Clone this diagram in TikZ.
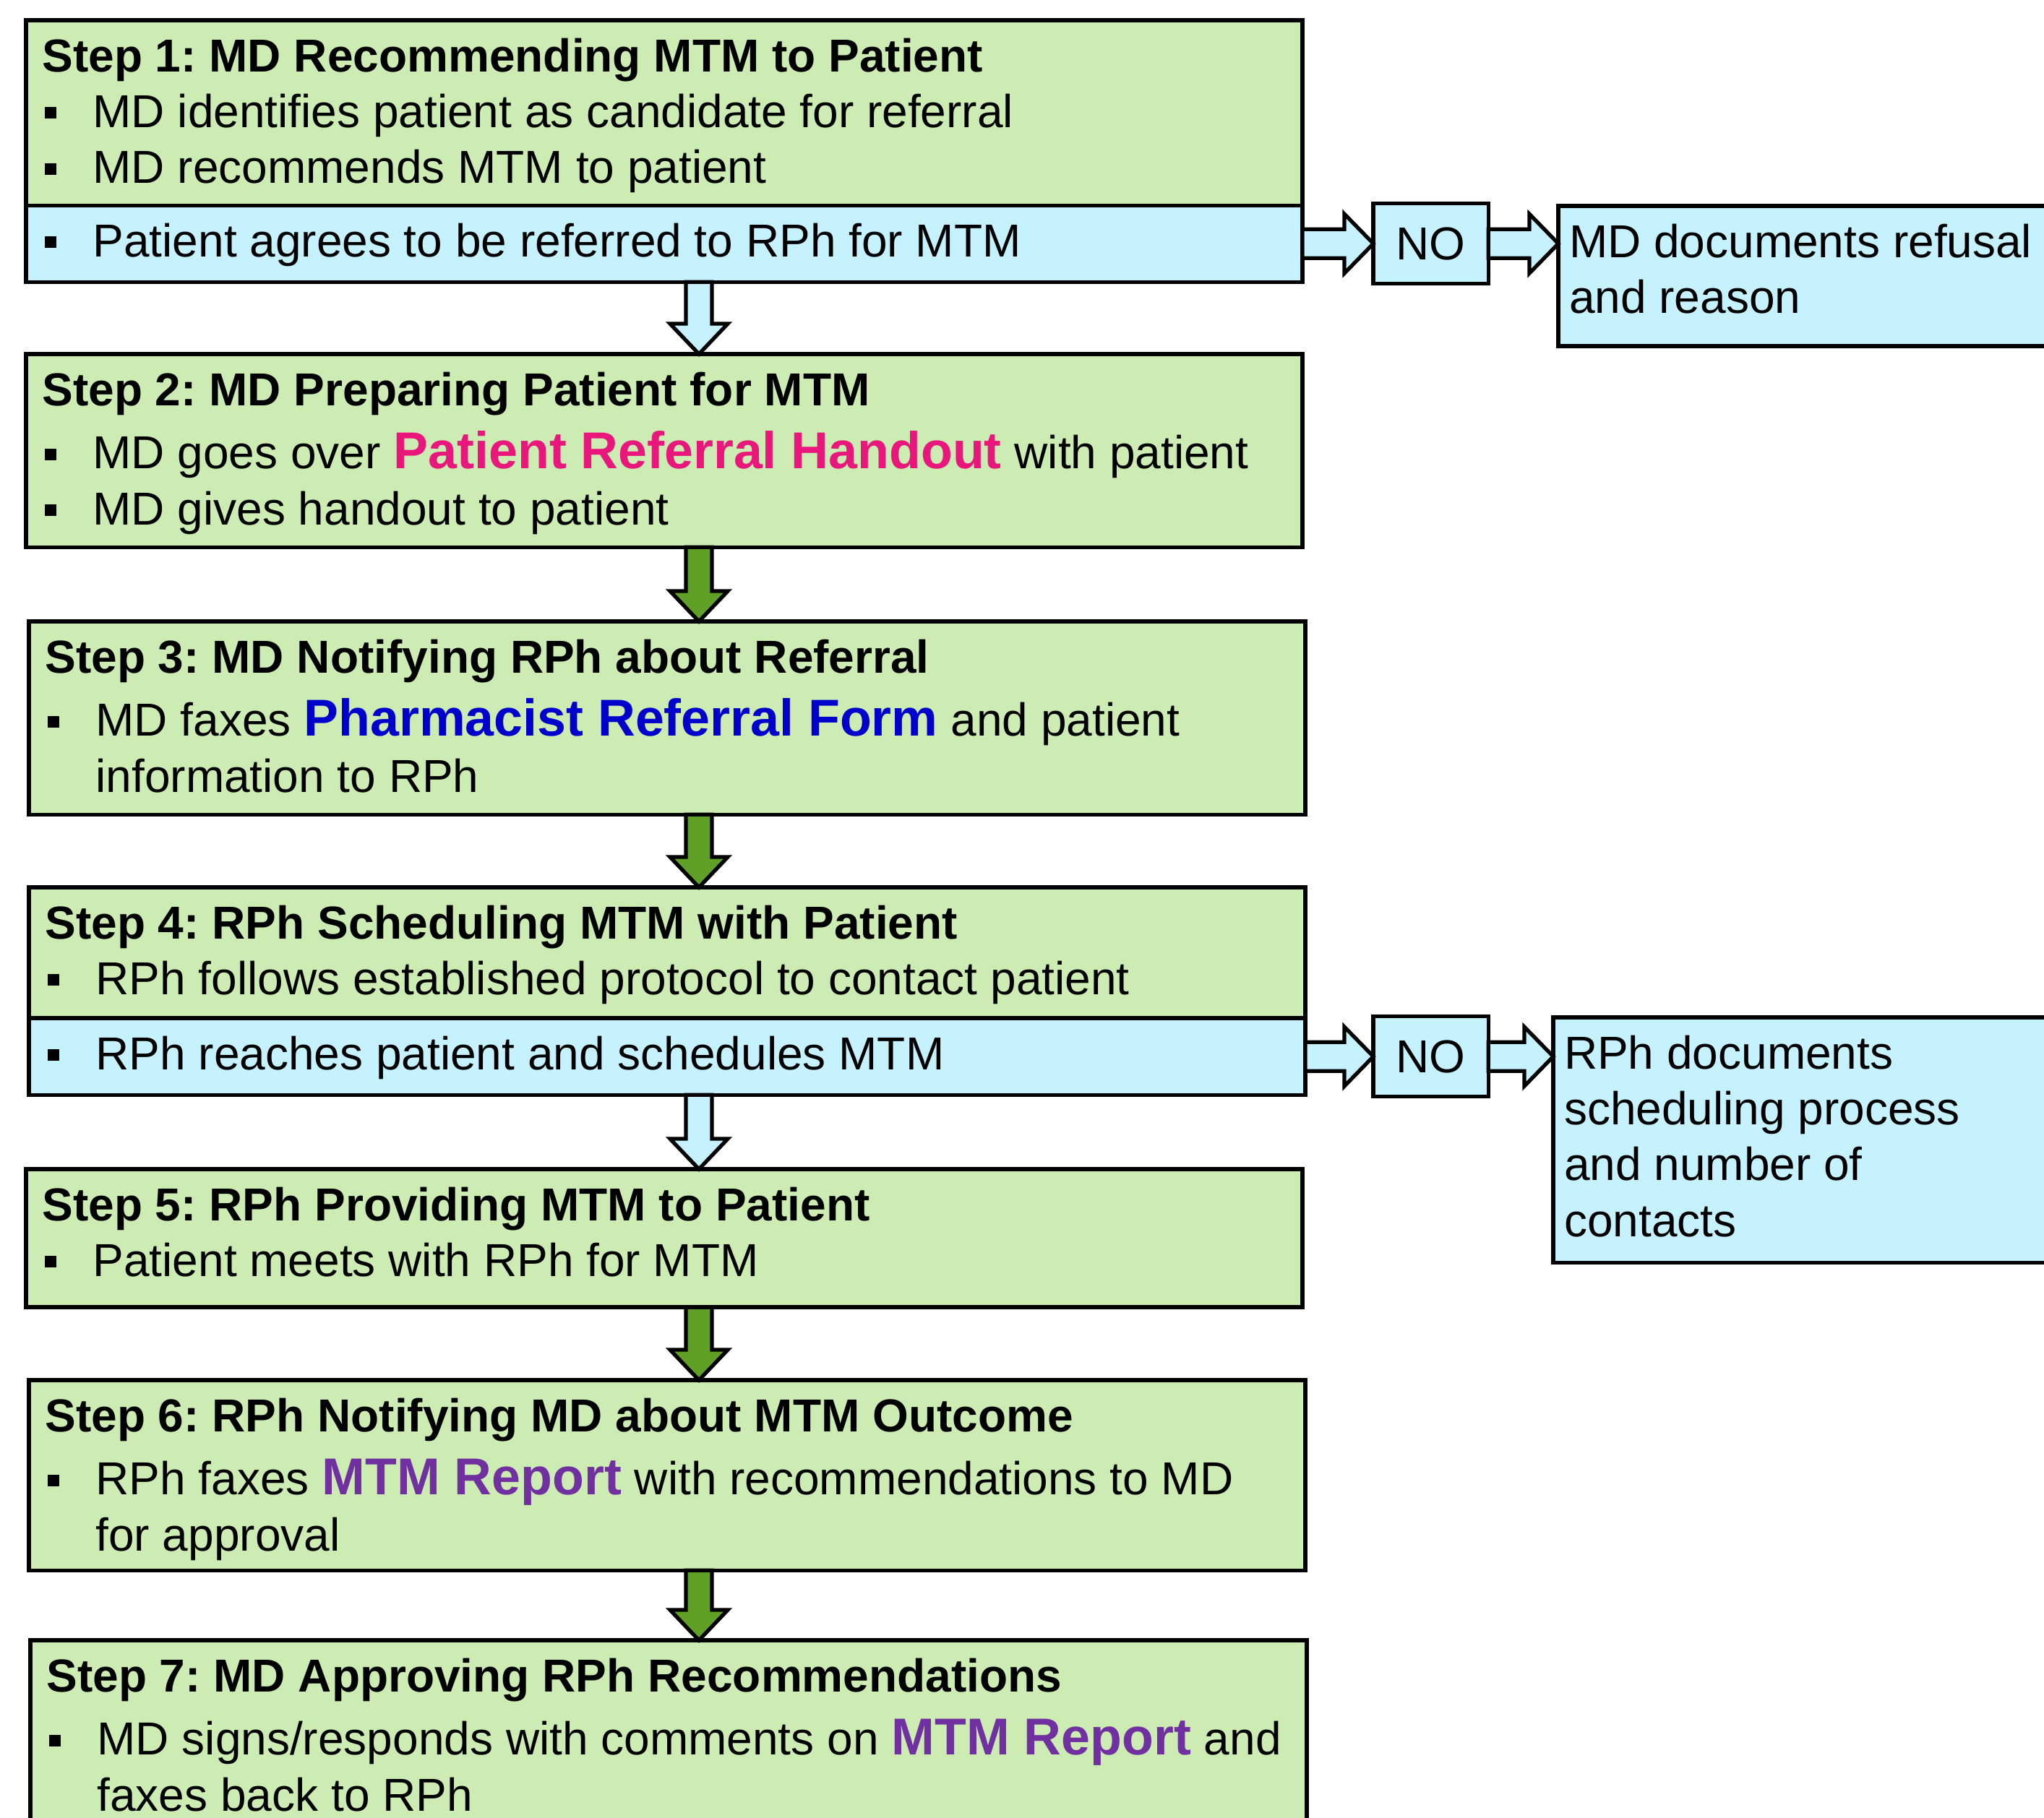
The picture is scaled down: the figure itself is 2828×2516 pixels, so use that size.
\documentclass[tikz,border=0pt]{standalone}
\usepackage{fontspec}
\setmainfont{Liberation Sans}
\usepackage{tikz}
\usetikzlibrary{positioning,calc}
\frenchspacing
\definecolor{stepgreen}{RGB}{204,236,180}
\definecolor{stepblue}{RGB}{198,241,255}
\definecolor{arrowgreen}{RGB}{96,160,38}
\definecolor{handoutpink}{RGB}{233,22,123}
\definecolor{formblue}{RGB}{0,0,204}
\definecolor{reportpurple}{RGB}{112,48,160}
\newcommand{\bul}{\makebox[0.70cm][l]{\hspace{0.03cm}\rule[0.12cm]{0.16cm}{0.16cm}}}
\newcommand{\docname}[2]{{\color{#1}\fontsize{20.4pt}{22pt}\selectfont\bfseries #2}}
% text hangs from the top of each box
\newcommand{\boxtext}[3]{\parbox[c][#1][t]{#2}{\raggedright\rule{0pt}{0.71cm}#3}}
\tikzstyle{stepbox} = [rectangle,draw=black,line width=1.5pt,fill=stepgreen,anchor=north west,outer sep=0pt,inner xsep=0.225cm,inner ysep=0pt,font=\fontsize{18.2pt}{22pt}\selectfont]
\tikzstyle{yesbox} = [stepbox,fill=stepblue]
\tikzstyle{nobox} = [rectangle,draw=black,line width=1.5pt,fill=stepblue,outer sep=0pt,minimum width=1.59cm,minimum height=1.11cm,inner sep=0pt,font=\fontsize{18.2pt}{22pt}\selectfont]
\tikzstyle{sidebox} = [stepbox,fill=stepblue,inner xsep=0.15cm]
\tikzstyle{blockdown} = [draw=black,line width=1.5pt,line join=miter,
  to path={($(\tikztostart)+(-18,0)$) -- ($(\tikztotarget)+(-18,42)$) -- ($(\tikztotarget)+(-40,42)$) -- (\tikztotarget)
    -- ($(\tikztotarget)+(40,42)$) -- ($(\tikztotarget)+(18,42)$) -- ($(\tikztostart)+(18,0)$) -- cycle}]
\tikzstyle{blockright} = [draw=black,line width=1.5pt,line join=miter,fill=stepblue,
  to path={($(\tikztostart)+(0,20)$) -- ($(\tikztotarget)+(-40,20)$) -- ($(\tikztotarget)+(-40,41)$) -- (\tikztotarget)
    -- ($(\tikztotarget)+(-40,-41)$) -- ($(\tikztotarget)+(-40,-20)$) -- ($(\tikztostart)+(0,-20)$) -- cycle}]

\begin{document}
\begin{tikzpicture}[x=0.01cm,y=0.01cm]
	\useasboundingbox (0,0) rectangle (2828,-2516);
	\coordinate (ax) at (967,0);

	%Step1
	\node (S1) [stepbox] at (36,-28) {\boxtext{2.56cm}{17.2cm}{\textbf{Step 1: MD Recommending MTM to Patient}\\
		\bul MD identifies patient as candidate for referral\\
		\bul MD recommends MTM to patient}};
	\node (S1b) [yesbox] at (S1.south west) {\boxtext{1.06cm}{17.2cm}{\bul Patient agrees to be referred to RPh for MTM}};
	\node (N1) [nobox,right=0.98cm of S1b] {NO};
	\node (R1) [sidebox] at (2156,-285) {\boxtext{1.94cm}{6.9cm}{MD documents refusal\\and reason}};

	%Step2
	\node (S2) [stepbox] at (36,-490) {\boxtext{2.67cm}{17.2cm}{\textbf{Step 2: MD Preparing Patient for MTM}\\[3pt]
		\bul MD goes over \docname{handoutpink}{Patient Referral Handout} with patient\\
		\bul MD gives handout to patient}};

	%Step3
	\node (S3) [stepbox] at (40,-860) {\boxtext{2.67cm}{17.2cm}{\textbf{Step 3: MD Notifying RPh about Referral}\\[3pt]
		\bul MD faxes \docname{formblue}{Pharmacist Referral Form} and patient\\
		\hspace*{0.70cm}information to RPh}};

	%Step4
	\node (S4) [stepbox] at (40,-1228) {\boxtext{1.81cm}{17.2cm}{\textbf{Step 4: RPh Scheduling MTM with Patient}\\
		\bul RPh follows established protocol to contact patient}};
	\node (S4b) [yesbox] at (S4.south west) {\boxtext{1.06cm}{17.2cm}{\bul RPh reaches patient and schedules MTM}};
	\node (N2) [nobox,right=0.94cm of S4b] {NO};
	\node (R2) [sidebox] at (2149,-1408) {\boxtext{3.39cm}{6.9cm}{RPh documents\\scheduling process\\and number of\\contacts}};

	%Step5
	\node (S5) [stepbox] at (36,-1618) {\boxtext{1.91cm}{17.2cm}{\textbf{Step 5: RPh Providing MTM to Patient}\\
		\bul Patient meets with RPh for MTM}};

	%Step6
	\node (S6) [stepbox] at (40,-1910) {\boxtext{2.63cm}{17.2cm}{\textbf{Step 6: RPh Notifying MD about MTM Outcome}\\[3pt]
		\bul RPh faxes \docname{reportpurple}{MTM Report} with recommendations to MD\\
		\hspace*{0.70cm}for approval}};

	%Step7
	\node (S7) [stepbox] at (42,-2270) {\boxtext{2.67cm}{17.2cm}{\textbf{Step 7: MD Approving RPh Recommendations}\\[3pt]
		\bul MD signs/responds with comments on \docname{reportpurple}{MTM Report} and\\
		\hspace*{0.70cm}faxes back to RPh}};

	%arrows
	\draw [blockdown,fill=stepblue] (S1b.south -| ax) to (S2.north -| ax);
	\draw [blockdown,fill=arrowgreen] (S2.south -| ax) to (S3.north -| ax);
	\draw [blockdown,fill=arrowgreen] (S3.south -| ax) to (S4.north -| ax);
	\draw [blockdown,fill=stepblue] (S4b.south -| ax) to (S5.north -| ax);
	\draw [blockdown,fill=arrowgreen] (S5.south -| ax) to (S6.north -| ax);
	\draw [blockdown,fill=arrowgreen] (S6.south -| ax) to (S7.north -| ax);
	\draw [blockright] (S1b.east) to (N1.west);
	\draw [blockright] (N1.east) to (R1.west |- N1.east);
	\draw [blockright] (S4b.east) to (N2.west);
	\draw [blockright] (N2.east) to (R2.west |- N2.east);
\end{tikzpicture}
\end{document}
